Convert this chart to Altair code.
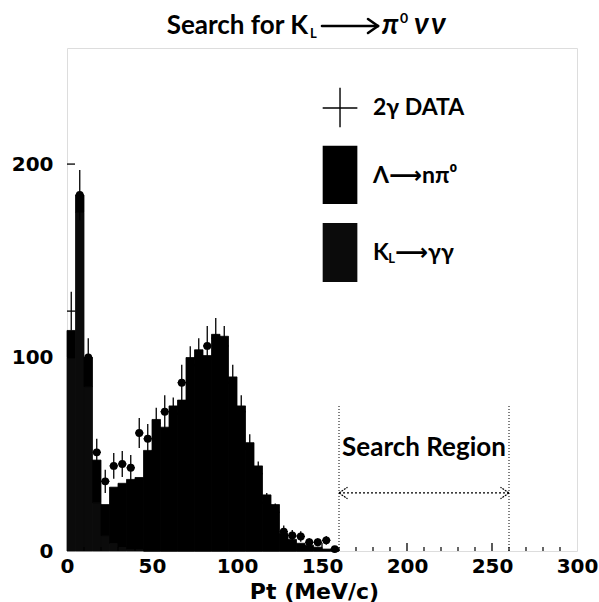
import altair as alt
import pandas as pd

# Pt histogram, 5 MeV/c bins from 0 to 160 MeV/c
bin_lo = [0, 5, 10, 15, 20, 25, 30, 35, 40, 45, 50, 55, 60, 65, 70, 75,
          80, 85, 90, 95, 100, 105, 110, 115, 120, 125, 130, 135, 140, 145, 150, 155]
# Monte Carlo: K_L -> gamma gamma component
kl_counts = [100, 175, 85, 25, 8, 4, 2, 1, 1, 0, 0, 0, 0, 0, 0, 0,
             0, 0, 0, 0, 0, 0, 0, 0, 0, 0, 0, 0, 0, 0, 0, 0]
# Monte Carlo: Lambda -> n pi0 component
lam_counts = [14, 9, 15, 22, 16, 29, 33, 36, 37, 52, 68, 64, 75, 78, 100, 104,
              101, 112, 111, 90, 75, 56, 44, 29, 24, 9, 6, 4, 3, 2, 1, 1]
# 2-gamma data with statistical errors
data_counts = [124, 184, 100, 51, 36, 44, 45, 43, 61, 58, 66, 72, 71, 87, 96, 100,
               106, 110, 106, 87, 72, 53, 40, 25, 20, 10, 8, 7.5, 4.5, 4.5, 5.5, 1]
data_err = [10, 13, 10, 7, 6, 6.6, 6.7, 6.6, 7.8, 7.6, 8.1, 8.5, 8.4, 9.3, 9.8, 10,
            10.3, 10.5, 10.3, 9.3, 8.5, 7.3, 6.3, 5, 4.5, 3.2, 2.8, 2.7, 2.1, 2.1, 2.3, 1]

x_major = [50, 100, 150, 200, 250]
x_minor = [10, 20, 30, 40, 60, 70, 80, 90, 110, 120, 130, 140, 160, 170, 180, 190,
           210, 220, 230, 240, 260, 270, 280, 290]
y_major = [100, 200]
search_lo, search_hi = 160, 260

W, H = 510, 503
FONT = "Lato, DejaVu Sans, sans-serif"
AXFONT = "DejaVu Sans"

xs = alt.Scale(domain=[0, 300], nice=False, zero=False)
ys = alt.Scale(domain=[0, 260], nice=False, zero=False)
comp_scale = alt.Scale(domain=["KL", "Lambda"], range=["#0b0b0b", "#000000"])

rows = []
for lo, kl, lam in zip(bin_lo, kl_counts, lam_counts):
    rows.append({"lo": lo, "hi": lo + 5, "comp": "KL", "order": 0, "n": kl})
    rows.append({"lo": lo, "hi": lo + 5, "comp": "Lambda", "order": 1, "n": lam})
mc = pd.DataFrame(rows)

pts = pd.DataFrame({"lo": bin_lo, "n": data_counts, "e": data_err})
pts["hi"] = pts["lo"] + 5
pts["mid"] = pts["lo"] + 2.5
pts["top"] = pts["n"] + pts["e"]
pts["bot"] = pts["n"] - pts["e"]

bars = alt.Chart(mc).transform_stack(
    stack="n", groupby=["lo"], as_=["y0", "y1"], sort=[alt.SortField("order")]
).mark_rect(strokeWidth=0.8).encode(
    x=alt.X("lo:Q", scale=xs, axis=alt.Axis(
        values=[0, 50, 100, 150, 200, 250, 300], ticks=False, domain=False, grid=False,
        labelFontSize=20, labelFont=AXFONT, labelFontWeight="bold", labelColor="black",
        labelPadding=5, labelFlush=False, title="Pt (MeV/c)", titleFont=AXFONT,
        titleFontSize=22, titleFontWeight="bold", titleColor="black",
        titleBaseline="alphabetic", titleY=47, titleX=247)),
    x2="hi:Q",
    y=alt.Y("y0:Q", scale=ys, axis=alt.Axis(
        values=[0, 100, 200], ticks=False, domain=False, grid=False,
        labelFontSize=20, labelFont=AXFONT, labelFontWeight="bold", labelColor="black",
        labelPadding=14, title=None)),
    y2="y1:Q",
    color=alt.Color("comp:N", scale=comp_scale, legend=None),
    stroke=alt.Stroke("comp:N", scale=comp_scale, legend=None),
)

err_v = alt.Chart(pts).mark_rule(color="black", strokeWidth=1.3).encode(
    x=alt.X("mid:Q", scale=xs), y=alt.Y("bot:Q", scale=ys), y2="top:Q")
err_h = alt.Chart(pts).mark_rule(color="black", strokeWidth=1.3).encode(
    x=alt.X("lo:Q", scale=xs), x2="hi:Q", y=alt.Y("n:Q", scale=ys))
dots = alt.Chart(pts).transform_filter("datum.lo > 0").mark_circle(
    color="black", opacity=1, size=62).encode(
    x=alt.X("mid:Q", scale=xs), y=alt.Y("n:Q", scale=ys))

# axis tick marks drawn inward
tx_major = alt.Chart(pd.DataFrame({"v": x_major})).mark_rule(color="black", strokeWidth=1.3).encode(
    x=alt.X("v:Q", scale=xs), y=alt.value(H), y2=alt.value(H - 8))
tx_minor = alt.Chart(pd.DataFrame({"v": x_minor})).mark_rule(color="black", strokeWidth=1.2).encode(
    x=alt.X("v:Q", scale=xs), y=alt.value(H), y2=alt.value(H - 4))
ty_major = alt.Chart(pd.DataFrame({"v": y_major})).mark_rule(color="black", strokeWidth=1.3).encode(
    y=alt.Y("v:Q", scale=ys), x=alt.value(0), x2=alt.value(8))

# search region markers
region = pd.DataFrame({"x": [search_lo, search_hi]})
vlines = alt.Chart(region).mark_rule(color="black", strokeWidth=1, strokeDash=[1, 2]).encode(
    x=alt.X("x:Q", scale=xs), y=alt.datum(0, scale=ys), y2=alt.datum(75))
arrow = alt.Chart(pd.DataFrame({"a": [search_lo], "b": [search_hi]})).mark_rule(
    color="black", strokeWidth=1.2, strokeDash=[2, 2]).encode(
    x=alt.X("a:Q", scale=xs), x2="b:Q", y=alt.datum(30, scale=ys))
heads = pd.DataFrame({
    "x": [search_lo, search_lo, search_hi, search_hi],
    "x2": [search_lo + 5, search_lo + 5, search_hi - 5, search_hi - 5],
    "y": [30, 30, 30, 30],
    "y2": [33, 27, 33, 27],
})
arrow_heads = alt.Chart(heads).mark_rule(color="black", strokeWidth=1.2, strokeDash=[2, 1]).encode(
    x=alt.X("x:Q", scale=xs), x2="x2:Q", y=alt.Y("y:Q", scale=ys), y2="y2:Q")

one = pd.DataFrame({"k": [0]})


def label(text, x, y, size=23, align="left", baseline="middle", style="normal", weight="bold"):
    return alt.Chart(one).mark_text(
        text=text, fontSize=size, font=FONT, fontWeight=weight, fontStyle=style,
        align=align, baseline=baseline, color="black").encode(
        x=alt.datum(x, scale=xs), y=alt.datum(y, scale=ys))


search_txt = label("Search Region", 210, 53, size=26, align="center")

# legend
cross = pd.DataFrame({"x": [150.4, 160.6], "x2": [170.8, 160.6], "y": [229, 239.5], "y2": [229, 219]})
leg_cross = alt.Chart(cross).mark_rule(color="black", strokeWidth=1.4).encode(
    x=alt.X("x:Q", scale=xs), x2="x2:Q", y=alt.Y("y:Q", scale=ys), y2="y2:Q")
boxes = pd.DataFrame({"x": [150.4, 150.4], "x2": [170.8, 170.8], "y": [209.5, 169.5],
                      "y2": [179.3, 139], "comp": ["Lambda", "KL"]})
leg_boxes = alt.Chart(boxes).mark_rect().encode(
    x=alt.X("x:Q", scale=xs), x2="x2:Q", y=alt.Y("y:Q", scale=ys), y2="y2:Q",
    color=alt.Color("comp:N", scale=comp_scale, legend=None))
leg_t1 = label("2\u03b3 DATA", 180, 229)
leg_t2 = label("\u039b\u27f6n\u03c0\u2070", 180, 194)
leg_t3a = label("K", 180, 154)
leg_t3b = label("L", 189.0, 151, size=13)
leg_t3c = label("\u27f6\u03b3\u03b3", 193.0, 154)


def ptext(text, x, y, size=26, align="left", style="normal"):
    return alt.Chart(one).mark_text(
        text=text, fontSize=size, font=FONT, fontWeight="bold", fontStyle=style,
        align=align, baseline="alphabetic", color="black").encode(
        x=alt.value(x), y=alt.value(y))


# title arrow: shaft plus open head, in pixel units above the frame
t_arrow = pd.DataFrame({
    "x": [255, 311, 311], "x2": [311, 301, 301],
    "y": [-22, -22, -22], "y2": [-22, -29, -15],
})
title_arrow = alt.Chart(t_arrow).mark_rule(color="black", strokeWidth=2.6, strokeCap="round").encode(
    x=alt.X("x:Q", scale=None), x2="x2:Q", y=alt.Y("y:Q", scale=None), y2="y2:Q")

title = [
    ptext("Search for K", 241, -14, align="right"),
    ptext("L", 243, -10, size=13),
    ptext("\u03c0", 315, -14, size=28, style="italic"),
    ptext("0", 333, -25, size=14),
    ptext("\u03bd", 347, -14, size=30, style="italic"),
    ptext("\u03bd", 364, -14, size=30, style="italic"),
]

chart = alt.layer(
    bars, err_v, err_h, dots, tx_major, tx_minor, ty_major,
    vlines, arrow, arrow_heads, search_txt,
    leg_cross, leg_boxes, leg_t1, leg_t2, leg_t3a, leg_t3b, leg_t3c,
    title_arrow, *title,
).properties(
    width=W, height=H,
    autosize=alt.AutoSizeParams(type="none"),
    padding={"left": 67, "top": 48, "right": 22, "bottom": 51},
).configure_view(
    stroke="black", strokeWidth=2
).configure(background="white")

chart.save("out.html", embed_options={"renderer": "svg", "actions": False})
